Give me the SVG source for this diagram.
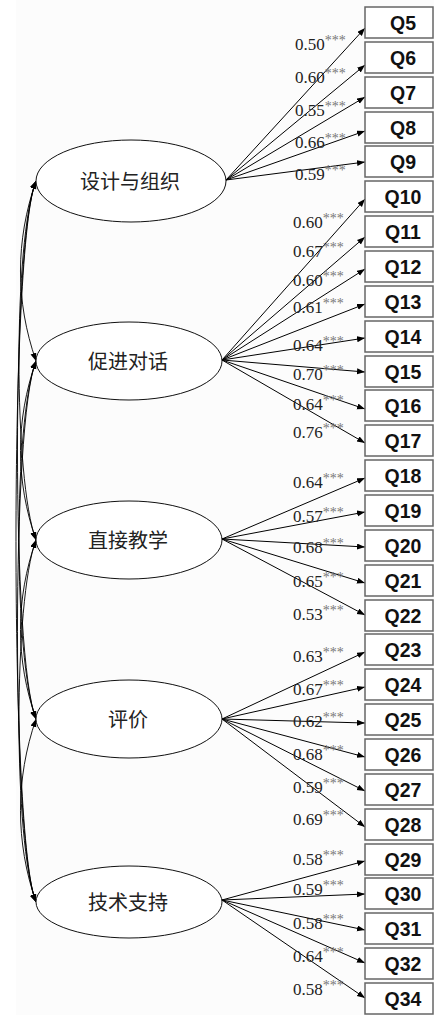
<svg xmlns="http://www.w3.org/2000/svg" width="434" height="1015" viewBox="0 0 434 1015">
<defs>
<marker id="ah" markerUnits="userSpaceOnUse" markerWidth="9" markerHeight="7" refX="8" refY="3" orient="auto-start-reverse"><path d="M0,0 L8,3 L0,6 z" fill="#000"/></marker>
<style>
.fac{fill:#fff;stroke:#111;stroke-width:1}
.ft{font-family:"Noto Sans CJK SC","Noto Sans",sans-serif;font-size:20px;fill:#222;text-anchor:middle}
.box{fill:#fff;stroke:#666;stroke-width:1.5}
.bt{font-family:"Liberation Sans",Arial,sans-serif;font-size:19.5px;font-weight:bold;fill:#111;text-anchor:middle}
.ln{stroke:#000;stroke-width:1;fill:none;marker-end:url(#ah)}
.cv{stroke:#000;stroke-width:0.9;fill:none;marker-start:url(#ah);marker-end:url(#ah)}
.lbl{font-family:"Liberation Serif","Times New Roman",serif;font-size:17px;fill:#222}
.sup{font-size:14px;fill:#777}
</style>
</defs>
<rect x="0" y="0" width="434" height="1015" fill="#fff"/>
<rect x="16" y="0" width="418" height="1015" fill="#fcfcfc"/>
<g id="connectors">
<path class="cv" d="M36,181 C15.3,241 15.3,301 36,361"/>
<path class="cv" d="M36,181 C13.3,241 13.3,480 36,540"/>
<path class="cv" d="M36,181 C11.3,241 11.3,659 36,719"/>
<path class="cv" d="M36,181 C9.3,241 9.3,842 36,902"/>
<path class="cv" d="M36,361 C15.3,421 15.3,480 36,540"/>
<path class="cv" d="M36,361 C13.3,421 13.3,659 36,719"/>
<path class="cv" d="M36,361 C11.3,421 11.3,842 36,902"/>
<path class="cv" d="M36,540 C15.3,600 15.3,659 36,719"/>
<path class="cv" d="M36,540 C13.3,600 13.3,842 36,902"/>
<path class="cv" d="M36,719 C15.3,779 15.3,842 36,902"/>
<line class="ln" x1="226" y1="180" x2="365" y2="28"/>
<line class="ln" x1="226" y1="180" x2="365" y2="65"/>
<line class="ln" x1="226" y1="180" x2="365" y2="97"/>
<line class="ln" x1="226" y1="180" x2="365" y2="131"/>
<line class="ln" x1="226" y1="180" x2="365" y2="162"/>
<line class="ln" x1="222" y1="360" x2="365" y2="199"/>
<line class="ln" x1="222" y1="360" x2="365" y2="237"/>
<line class="ln" x1="222" y1="360" x2="365" y2="269"/>
<line class="ln" x1="222" y1="360" x2="365" y2="304"/>
<line class="ln" x1="222" y1="360" x2="365" y2="338"/>
<line class="ln" x1="222" y1="360" x2="365" y2="372"/>
<line class="ln" x1="222" y1="360" x2="365" y2="409"/>
<line class="ln" x1="222" y1="360" x2="365" y2="443"/>
<line class="ln" x1="222" y1="539" x2="365" y2="478"/>
<line class="ln" x1="222" y1="539" x2="365" y2="512"/>
<line class="ln" x1="222" y1="539" x2="365" y2="547"/>
<line class="ln" x1="222" y1="539" x2="365" y2="583"/>
<line class="ln" x1="222" y1="539" x2="365" y2="615"/>
<line class="ln" x1="222" y1="719" x2="365" y2="652"/>
<line class="ln" x1="222" y1="719" x2="365" y2="687"/>
<line class="ln" x1="222" y1="719" x2="365" y2="723"/>
<line class="ln" x1="222" y1="719" x2="365" y2="757"/>
<line class="ln" x1="222" y1="719" x2="365" y2="791"/>
<line class="ln" x1="222" y1="719" x2="365" y2="827"/>
<line class="ln" x1="222" y1="900" x2="365" y2="861"/>
<line class="ln" x1="222" y1="900" x2="365" y2="894"/>
<line class="ln" x1="222" y1="900" x2="365" y2="930"/>
<line class="ln" x1="222" y1="900" x2="365" y2="963"/>
<line class="ln" x1="222" y1="900" x2="365" y2="998"/>
</g>
<g id="labels">
<text class="lbl" x="295" y="50">0.50<tspan class="sup" dy="-5">***</tspan></text>
<text class="lbl" x="295" y="83">0.60<tspan class="sup" dy="-5">***</tspan></text>
<text class="lbl" x="295" y="116">0.55<tspan class="sup" dy="-5">***</tspan></text>
<text class="lbl" x="295" y="148">0.66<tspan class="sup" dy="-5">***</tspan></text>
<text class="lbl" x="295" y="180">0.59<tspan class="sup" dy="-5">***</tspan></text>
<text class="lbl" x="293" y="228">0.60<tspan class="sup" dy="-5">***</tspan></text>
<text class="lbl" x="293" y="257">0.67<tspan class="sup" dy="-5">***</tspan></text>
<text class="lbl" x="293" y="286">0.60<tspan class="sup" dy="-5">***</tspan></text>
<text class="lbl" x="293" y="313">0.61<tspan class="sup" dy="-5">***</tspan></text>
<text class="lbl" x="293" y="351">0.64<tspan class="sup" dy="-5">***</tspan></text>
<text class="lbl" x="293" y="380">0.70<tspan class="sup" dy="-5">***</tspan></text>
<text class="lbl" x="293" y="410">0.64<tspan class="sup" dy="-5">***</tspan></text>
<text class="lbl" x="293" y="438">0.76<tspan class="sup" dy="-5">***</tspan></text>
<text class="lbl" x="293" y="488">0.64<tspan class="sup" dy="-5">***</tspan></text>
<text class="lbl" x="293" y="522">0.57<tspan class="sup" dy="-5">***</tspan></text>
<text class="lbl" x="293" y="553">0.68<tspan class="sup" dy="-5">***</tspan></text>
<text class="lbl" x="293" y="587">0.65<tspan class="sup" dy="-5">***</tspan></text>
<text class="lbl" x="293" y="620">0.53<tspan class="sup" dy="-5">***</tspan></text>
<text class="lbl" x="293" y="662">0.63<tspan class="sup" dy="-5">***</tspan></text>
<text class="lbl" x="293" y="695">0.67<tspan class="sup" dy="-5">***</tspan></text>
<text class="lbl" x="293" y="727">0.62<tspan class="sup" dy="-5">***</tspan></text>
<text class="lbl" x="293" y="760">0.68<tspan class="sup" dy="-5">***</tspan></text>
<text class="lbl" x="293" y="793">0.59<tspan class="sup" dy="-5">***</tspan></text>
<text class="lbl" x="293" y="825">0.69<tspan class="sup" dy="-5">***</tspan></text>
<text class="lbl" x="293" y="865">0.58<tspan class="sup" dy="-5">***</tspan></text>
<text class="lbl" x="293" y="895">0.59<tspan class="sup" dy="-5">***</tspan></text>
<text class="lbl" x="293" y="929">0.58<tspan class="sup" dy="-5">***</tspan></text>
<text class="lbl" x="293" y="962">0.64<tspan class="sup" dy="-5">***</tspan></text>
<text class="lbl" x="293" y="995">0.58<tspan class="sup" dy="-5">***</tspan></text>
</g>
<g id="f1"><ellipse class="fac" cx="131" cy="181" rx="95" ry="41"/><text class="ft" x="130" y="189">设计与组织</text></g>
<g id="f2"><ellipse class="fac" cx="129" cy="361" rx="93" ry="39"/><text class="ft" x="128" y="369">促进对话</text></g>
<g id="f3"><ellipse class="fac" cx="129" cy="540" rx="93" ry="39"/><text class="ft" x="128" y="548">直接教学</text></g>
<g id="f4"><ellipse class="fac" cx="129" cy="719" rx="93" ry="39"/><text class="ft" x="128" y="727">评价</text></g>
<g id="f5"><ellipse class="fac" cx="129" cy="902" rx="93" ry="36"/><text class="ft" x="128" y="910">技术支持</text></g>
<g id="q5"><rect class="box" x="365" y="7" width="68" height="31"/><text class="bt" x="403" y="30">Q5</text></g>
<g id="q6"><rect class="box" x="365" y="42" width="68" height="31"/><text class="bt" x="403" y="65">Q6</text></g>
<g id="q7"><rect class="box" x="365" y="77" width="68" height="31"/><text class="bt" x="403" y="100">Q7</text></g>
<g id="q8"><rect class="box" x="365" y="112" width="68" height="31"/><text class="bt" x="403" y="135">Q8</text></g>
<g id="q9"><rect class="box" x="365" y="146" width="68" height="31"/><text class="bt" x="403" y="169">Q9</text></g>
<g id="q10"><rect class="box" x="365" y="181" width="68" height="31"/><text class="bt" x="403" y="204">Q10</text></g>
<g id="q11"><rect class="box" x="365" y="216" width="68" height="31"/><text class="bt" x="403" y="239">Q11</text></g>
<g id="q12"><rect class="box" x="365" y="251" width="68" height="31"/><text class="bt" x="403" y="274">Q12</text></g>
<g id="q13"><rect class="box" x="365" y="286" width="68" height="31"/><text class="bt" x="403" y="309">Q13</text></g>
<g id="q14"><rect class="box" x="365" y="321" width="68" height="31"/><text class="bt" x="403" y="344">Q14</text></g>
<g id="q15"><rect class="box" x="365" y="356" width="68" height="31"/><text class="bt" x="403" y="379">Q15</text></g>
<g id="q16"><rect class="box" x="365" y="390" width="68" height="31"/><text class="bt" x="403" y="413">Q16</text></g>
<g id="q17"><rect class="box" x="365" y="425" width="68" height="31"/><text class="bt" x="403" y="448">Q17</text></g>
<g id="q18"><rect class="box" x="365" y="460" width="68" height="31"/><text class="bt" x="403" y="483">Q18</text></g>
<g id="q19"><rect class="box" x="365" y="495" width="68" height="31"/><text class="bt" x="403" y="518">Q19</text></g>
<g id="q20"><rect class="box" x="365" y="530" width="68" height="31"/><text class="bt" x="403" y="553">Q20</text></g>
<g id="q21"><rect class="box" x="365" y="565" width="68" height="31"/><text class="bt" x="403" y="588">Q21</text></g>
<g id="q22"><rect class="box" x="365" y="600" width="68" height="31"/><text class="bt" x="403" y="623">Q22</text></g>
<g id="q23"><rect class="box" x="365" y="634" width="68" height="31"/><text class="bt" x="403" y="657">Q23</text></g>
<g id="q24"><rect class="box" x="365" y="669" width="68" height="31"/><text class="bt" x="403" y="692">Q24</text></g>
<g id="q25"><rect class="box" x="365" y="704" width="68" height="31"/><text class="bt" x="403" y="727">Q25</text></g>
<g id="q26"><rect class="box" x="365" y="739" width="68" height="31"/><text class="bt" x="403" y="762">Q26</text></g>
<g id="q27"><rect class="box" x="365" y="774" width="68" height="31"/><text class="bt" x="403" y="797">Q27</text></g>
<g id="q28"><rect class="box" x="365" y="809" width="68" height="31"/><text class="bt" x="403" y="832">Q28</text></g>
<g id="q29"><rect class="box" x="365" y="844" width="68" height="31"/><text class="bt" x="403" y="867">Q29</text></g>
<g id="q30"><rect class="box" x="365" y="878" width="68" height="31"/><text class="bt" x="403" y="901">Q30</text></g>
<g id="q31"><rect class="box" x="365" y="913" width="68" height="31"/><text class="bt" x="403" y="936">Q31</text></g>
<g id="q32"><rect class="box" x="365" y="948" width="68" height="31"/><text class="bt" x="403" y="971">Q32</text></g>
<g id="q34"><rect class="box" x="365" y="983" width="68" height="31"/><text class="bt" x="403" y="1006">Q34</text></g>
</svg>
